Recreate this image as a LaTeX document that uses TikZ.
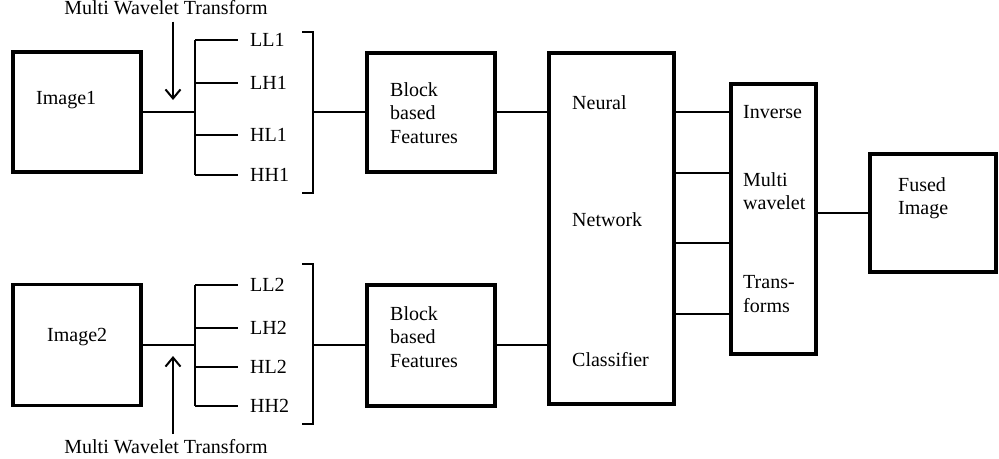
\documentclass[tikz,border=0pt]{standalone}
\usepackage{fontspec}
\setmainfont{Liberation Serif}
\usetikzlibrary{arrows.meta}

\begin{document}
\begin{tikzpicture}[x=1pt,y=-1pt,
	box/.style={draw,line width=3.4pt,inner sep=0pt},
	wire/.style={line width=2pt},
	txt/.style={font=\fontsize{20}{23.5}\selectfont,inner sep=0pt,align=left,anchor=west},
	band/.style={txt,inner xsep=12pt},
	barb/.style={wire,-{Straight Barb[length=9pt,width=15pt,line width=2pt]}}]
			\useasboundingbox (0,0) rectangle (999,458);
			% Eingangsbilder
			\node[box,minimum width=128pt,minimum height=120pt] (img1) at (77,112) {};
			\node[box,minimum width=128pt,minimum height=121pt] (img2) at (77,345) {};
			\node[txt] (img1txt) at (36,100) {Image1};
			\node[txt] (img2txt) at (47,337) {Image2};
			% Teilbaender
			\node[band] (ll1) at (238,40) {LL1};
			\node[band] (lh1) at (238,83) {LH1};
			\node[band] (hl1) at (238,135) {HL1};
			\node[band] (hh1) at (238,175) {HH1};
			\node[band] (ll2) at (238,285) {LL2};
			\node[band] (lh2) at (238,328) {LH2};
			\node[band] (hl2) at (238,367) {HL2};
			\node[band] (hh2) at (238,406) {HH2};
			\coordinate (split1) at (195,112);
			\coordinate (split2) at (195,345);
			\draw[wire] (img1) -- (split1);
			\draw[wire] (img2) -- (split2);
			\draw[wire] (split1 |- ll1.west) -- (split1 |- hh1.west);
			\draw[wire] (split2 |- ll2.west) -- (split2 |- hh2.west);
			\foreach \b in {ll1,lh1,hl1,hh1} \draw[wire] (split1 |- \b.west) -- (\b.west);
			\foreach \b in {ll2,lh2,hl2,hh2} \draw[wire] (split2 |- \b.west) -- (\b.west);
			% Multi Wavelet Transform
			\node[txt,anchor=base] (mwt1) at (166,14.5) {Multi Wavelet Transform};
			\node[txt,anchor=base] (mwt2) at (166,453.5) {Multi Wavelet Transform};
			\coordinate (tip1) at (173,100);
			\coordinate (tip2) at (173,356);
			\draw[barb,shorten <=6.5pt] (tip1 |- mwt1.south) -- (tip1);
			\draw[barb,shorten <=5pt] (tip2 |- mwt2.north) -- (tip2);
			% Klammern
			\draw[wire] (302,32) -- (313,32) -- (313,193) -- (302,193);
			\draw[wire] (302,264) -- (313,264) -- (313,424) -- (302,424);
			\coordinate (brk1) at (313,112);
			\coordinate (brk2) at (313,345);
			% Block based Features
			\node[box,minimum width=128pt,minimum height=119pt] (blk1) at (431,112.5) {};
			\node[box,minimum width=128pt,minimum height=121pt] (blk2) at (431,345.5) {};
			\node[txt] (blk1txt) at (390,113) {Block\\based\\Features};
			\node[txt] (blk2txt) at (390,337) {Block\\based\\Features};
			\draw[wire] (brk1) -- (brk1 -| blk1.west);
			\draw[wire] (brk2) -- (brk2 -| blk2.west);
			% Neural Network Classifier
			\node[box,minimum width=125pt,minimum height=351pt] (nn) at (611.5,228.5) {};
			\node[txt] (nn1) at (572,103) {Neural};
			\node[txt] (nn2) at (572,220) {Network};
			\node[txt] (nn3) at (572,360) {Classifier};
			\draw[wire] (blk1.east |- brk1) -- (nn.west |- brk1);
			\draw[wire] (blk2.east |- brk2) -- (nn.west |- brk2);
			% Inverse Multi wavelet Transforms
			\node[box,minimum width=85pt,minimum height=270pt] (imw) at (773.5,219) {};
			\node[txt] (imw1) at (743,112) {Inverse};
			\node[txt] (imw2) at (743,191) {Multi\\wavelet};
			\node[txt] (imw3) at (743,294) {Trans-\\forms};
			\foreach \y in {112,173,243,314} \draw[wire] (nn.east |- 0,\y) -- (imw.west |- 0,\y);
			% Fused Image
			\node[box,minimum width=126pt,minimum height=118pt] (fused) at (933,213) {};
			\node[txt] (fusedtxt) at (898,198) {Fused\\Image};
			\draw[wire] (imw.east |- fused.west) -- (fused.west);
\end{tikzpicture}
\end{document}
